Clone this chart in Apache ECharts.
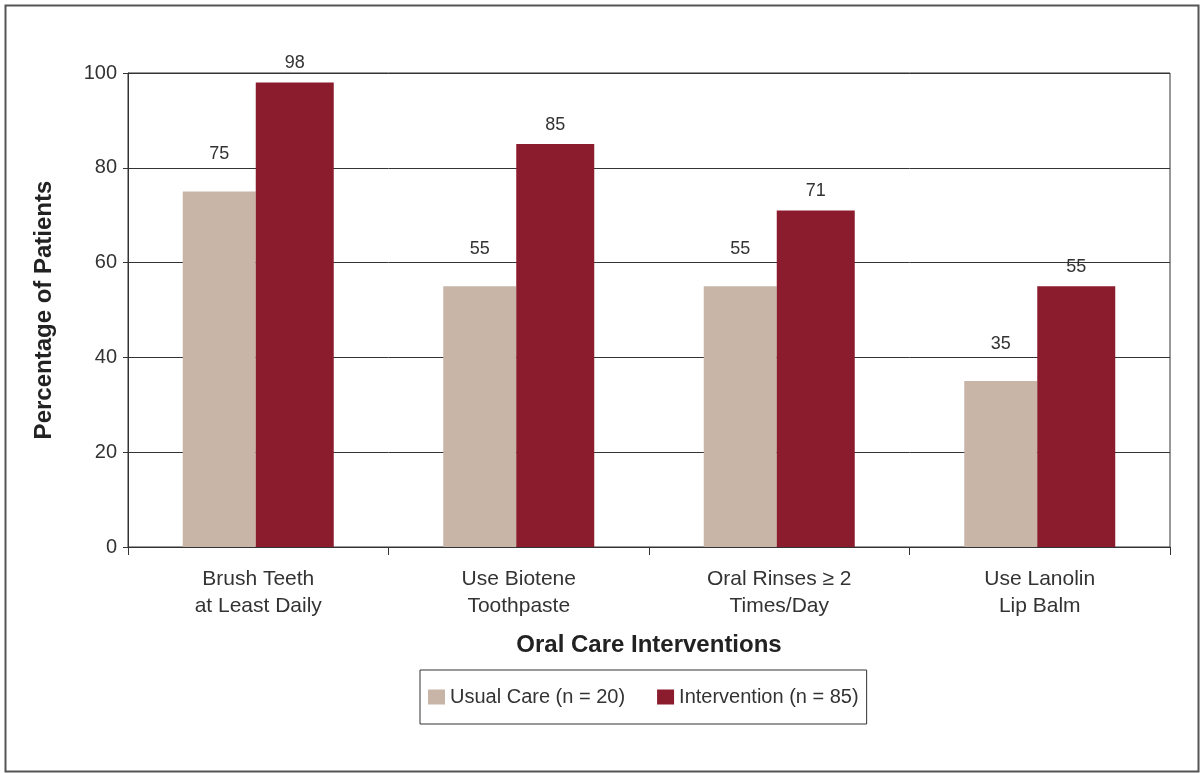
<!DOCTYPE html>
<html>
<head>
<meta charset="utf-8">
<script src="https://cdn.jsdelivr.net/npm/echarts@6/dist/echarts.min.js"></script>
<style>
  html, body { margin: 0; padding: 0; background: #fff; }
  #chart { width: 1201px; height: 773px; }
</style>
</head>
<body>
<div id="chart"></div>
<script>
// 数据
var categories = ["Brush Teeth\nat Least Daily", "Use Biotene\nToothpaste", "Oral Rinses \u2265 2\nTimes/Day", "Use Lanolin\nLip Balm"];
var usualCare = [75, 55, 55, 35];
var intervention = [98, 85, 71, 55];
var yTicks = [0, 20, 40, 60, 80, 100];

(function () {
  var font = "Liberation Sans, Arial, sans-serif";
  var mychart = echarts.init(document.getElementById("chart"));
  var option = {
    animation: false,
    textStyle: { fontFamily: font },
    // 外框
    graphic: [
      {
        type: "rect",
        left: 3,
        top: 3,
        shape: { width: 1193, height: 766 },
        style: { fill: "none", stroke: "#555", lineWidth: 2 },
        silent: true,
      },
    ],
    grid: {
      left: 128,
      right: 31,
      top: 73,
      bottom: 226,
      show: true,
      borderColor: "#333",
      borderWidth: 1,
    },
    legend: {
      left: 420,
      top: 670,
      itemWidth: 17,
      itemHeight: 15,
      itemGap: 32,
      padding: [17, 8, 17, 8],
      borderColor: "#333",
      borderWidth: 1,
      icon: "rect",
      textStyle: { fontSize: 20, color: "#333", fontFamily: font },
      data: ["Usual Care (n = 20)", "Intervention (n = 85)"],
    },
    xAxis: {
      type: "category",
      data: categories,
      name: "Oral Care Interventions",
      nameLocation: "middle",
      nameGap: 86,
      nameTextStyle: { fontSize: 24, fontWeight: "bold", color: "#222", fontFamily: font },
      axisLine: { lineStyle: { color: "#333" } },
      axisTick: { show: true, length: 8, lineStyle: { color: "#333" } },
      axisLabel: { fontSize: 21, color: "#333", lineHeight: 27, margin: 19, fontFamily: font },
    },
    yAxis: {
      type: "value",
      min: yTicks[0],
      max: yTicks[yTicks.length - 1],
      interval: 20,
      name: "Percentage of Patients",
      nameLocation: "middle",
      nameGap: 72,
      nameTextStyle: { fontSize: 24, fontWeight: "bold", color: "#222", fontFamily: font },
      axisLine: { show: true, lineStyle: { color: "#333" } },
      axisTick: { show: true, length: 5, lineStyle: { color: "#333" } },
      axisLabel: { fontSize: 20, color: "#333", margin: 11, fontFamily: font },
      splitLine: { lineStyle: { color: "#333", width: 1 } },
    },
    series: [
      {
        name: "Usual Care (n = 20)",
        type: "bar",
        data: usualCare,
        barWidth: 73,
        barGap: "0%",
        itemStyle: { color: "#c9b5a8" },
        label: {
          show: true,
          position: "top",
          distance: 28,
          fontSize: 18,
          color: "#333",
          fontFamily: font,
        },
      },
      {
        name: "Intervention (n = 85)",
        type: "bar",
        data: intervention,
        barWidth: 78,
        barGap: "0%",
        itemStyle: { color: "#8b1c2d" },
        label: {
          show: true,
          position: "top",
          distance: 10,
          fontSize: 18,
          color: "#333",
          fontFamily: font,
        },
      },
    ],
  };
  mychart.setOption(option);
})();
</script>
</body>
</html>
